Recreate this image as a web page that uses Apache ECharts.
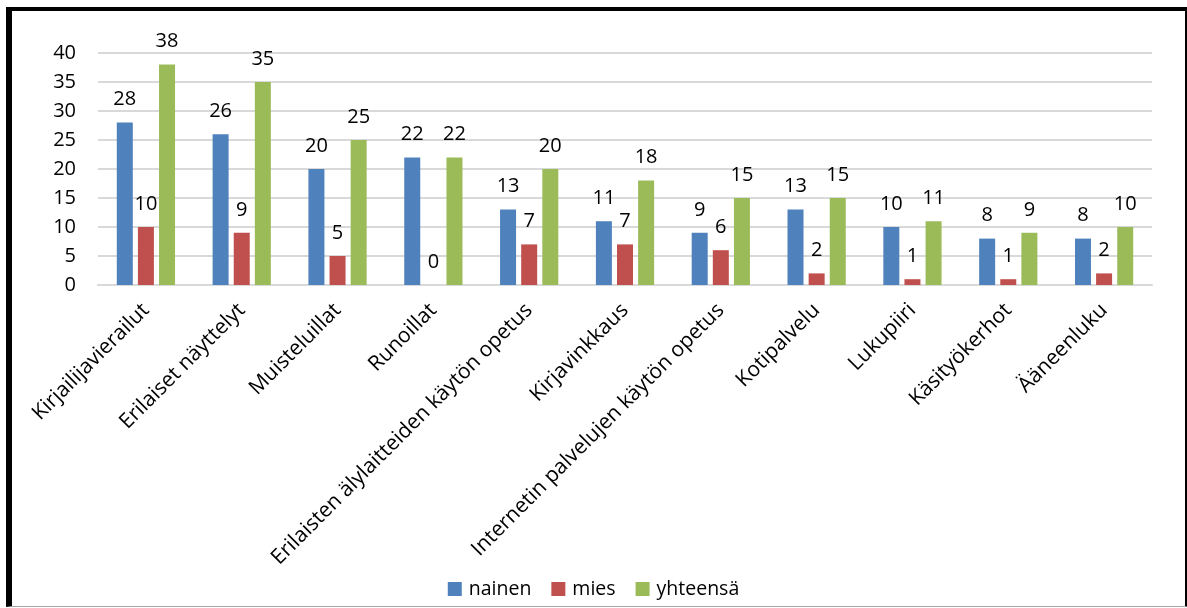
<!DOCTYPE html>
<html>
<head>
<meta charset="utf-8">
<script src="https://cdn.jsdelivr.net/npm/echarts@6/dist/echarts.min.js"></script>
<style>
  html, body { margin: 0; padding: 0; background: #fff; }
  #wrap { position: relative; width: 1187px; height: 608px; }
  #frame {
    position: absolute; left: 6px; top: 7px; width: 1173px; height: 595px;
    border-left: 6px solid #000; border-top: 4px solid #000;
    border-right: 4px solid #000; border-bottom: 1px solid #a6a6a6;
    pointer-events: none;
  }
  #chart { position: absolute; left: 0; top: 0; width: 1187px; height: 608px; }
</style>
</head>
<body>
<div id="wrap">
  <div id="chart"></div>
  <div id="frame"></div>
</div>
<script>
  // data
  var categories = ['Kirjailijavierailut', 'Erilaiset näyttelyt', 'Muisteluillat', 'Runoillat',
    'Erilaisten älylaitteiden käytön opetus', 'Kirjavinkkaus', 'Internetin palvelujen käytön opetus',
    'Kotipalvelu', 'Lukupiiri', 'Käsityökerhot', 'Ääneenluku'];
  var nainen = [28, 26, 20, 22, 13, 11, 9, 13, 10, 8, 8];
  var mies = [10, 9, 5, 0, 7, 7, 6, 2, 1, 1, 2];
  var yhteensa = [38, 35, 25, 22, 20, 18, 15, 15, 11, 9, 10];
  var yTicks = [0, 5, 10, 15, 20, 25, 30, 35, 40];

  var font = '"Open Sans", sans-serif';
  var chart = echarts.init(document.getElementById('chart'));

  function bar(name, data, color) {
    return {
      name: name,
      type: 'bar',
      data: data,
      barWidth: 16,
      barGap: '32%',
      itemStyle: { color: color },
      label: {
        show: true, position: 'top', distance: 13,
        color: '#000', fontFamily: font, fontSize: 20
      }
    };
  }

  chart.setOption({
    animation: false,
    textStyle: { fontFamily: font },
    grid: { left: 98, right: 35, top: 53, bottom: 323 },
    legend: {
      bottom: 4, left: 'center',
      itemWidth: 14, itemHeight: 14, itemGap: 20,
      icon: 'rect',
      textStyle: { fontFamily: font, fontSize: 19.5, color: '#000', padding: [0, 0, 0, 2] },
      data: ['nainen', 'mies', 'yhteensä']
    },
    xAxis: {
      type: 'category',
      data: categories,
      axisLine: { lineStyle: { color: '#d9d9d9', width: 2 } },
      axisTick: { show: false },
      axisLabel: {
        rotate: 45, interval: 0, margin: 22,
        color: '#000', fontFamily: font, fontSize: 21
      }
    },
    yAxis: {
      type: 'value',
      min: yTicks[0], max: yTicks[yTicks.length - 1], interval: 5,
      axisLine: { show: false },
      axisTick: { show: false },
      splitLine: { lineStyle: { color: '#d9d9d9', width: 2 } },
      axisLabel: { margin: 22, color: '#000', fontFamily: font, fontSize: 20 }
    },
    series: [
      bar('nainen', nainen, '#4f81bd'),
      bar('mies', mies, '#c0504d'),
      bar('yhteensä', yhteensa, '#9bbb59')
    ]
  });
</script>
</body>
</html>
